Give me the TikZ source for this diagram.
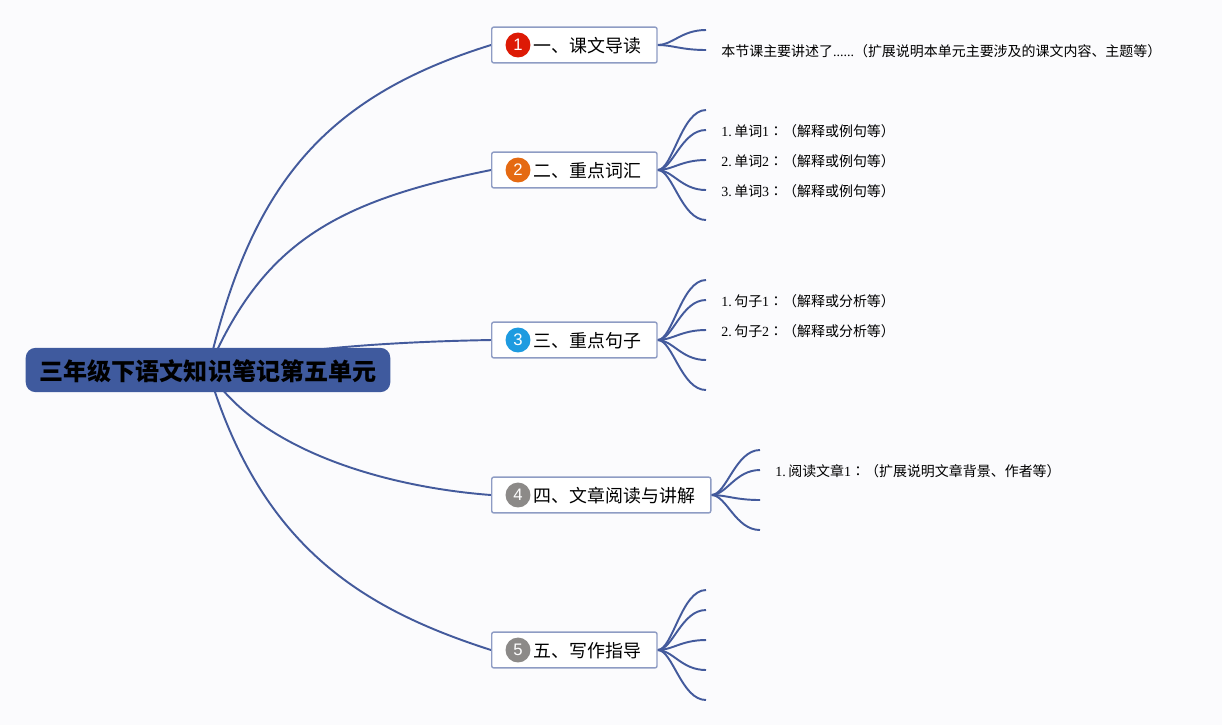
\documentclass[tikz,border=0pt]{standalone}
\usepackage{fontspec}
\setmainfont{Noto Sans CJK SC}
\newfontfamily\latinfont{Liberation Serif}
\newfontfamily\iconfont{Liberation Sans}
\newfontfamily\colonfont{Noto Sans CJK TC}
\newcommand{\numdot}[1]{{\latinfont #1.}\hspace{1.4pt}}
\definecolor{pagebg}{HTML}{FBFBFD}
\definecolor{linkblue}{HTML}{435A9C}
\definecolor{rootblue}{HTML}{3F5A9E}
\definecolor{boxline}{HTML}{8E9CC4}
\definecolor{iconred}{HTML}{DD1A05}
\definecolor{iconorange}{HTML}{E56A12}
\definecolor{iconblue}{HTML}{1E9BE0}
\definecolor{icongrey}{HTML}{8C8A88}
\usetikzlibrary{backgrounds}
\tikzset{
  rootbox/.style={fill=rootblue, rounded corners=5.6pt, minimum width=207.5pt, minimum height=25.2pt, inner sep=0pt, text height=12.1pt, text depth=0pt, font=\fontsize{13.7}{15}\selectfont\bfseries},
  topicbox/.style={draw=boxline, fill=white, rounded corners=1.2pt, line width=0.8pt, anchor=west, inner ysep=0pt, inner xsep=9pt, minimum height=20.4pt, text width=76.1pt, text height=9pt, text depth=0pt, align=right, font=\fontsize{10.2}{12}\selectfont},
  iconball/.style={circle, inner sep=0pt, minimum size=14.2pt, text=white, font=\iconfont\fontsize{9.5}{10}\selectfont},
  leaftext/.style={anchor=west, inner sep=0pt, font=\fontsize{7.95}{10}\selectfont},
  mainlink/.style={draw=linkblue, line width=1.1pt},
  branch/.style={draw=linkblue, line width=1.1pt, out=0, in=180, out distance=8.5pt, in distance=14pt},
}
\begin{document}
\begin{tikzpicture}[x=0.02cm, y=-0.02cm]
    \useasboundingbox (0,0) rectangle (1222,725);
    \node[rootbox] (root) at (208,370) {三年级下语文知识笔记第五单元};

    \node[topicbox] (topicA) at (491,45) {一、课文导读};
    \node[topicbox] (topicB) at (491,170) {二、重点词汇};
    \node[topicbox] (topicC) at (491,340) {三、重点句子};
    \node[topicbox, text width=106.7pt] (topicD) at (491,495) {四、文章阅读与讲解};
    \node[topicbox] (topicE) at (491,650) {五、写作指导};

    \node[iconball, fill=iconred] (iconA) at (518,45) {1};
    \node[iconball, fill=iconorange] (iconB) at (518,170) {2};
    \node[iconball, fill=iconblue] (iconC) at (518,340) {3};
    \node[iconball, fill=icongrey] (iconD) at (518,495) {4};
    \node[iconball, fill=icongrey] (iconE) at (518,650) {5};

    \node[leaftext] (leafA) at (721,51) {本节课主要讲述了{\latinfont ......}（扩展说明本单元主要涉及的课文内容、主题等）};
    \node[leaftext] (leafB1) at (721,131) {\numdot{1}单词{\latinfont 1}{\colonfont ：}（解释或例句等）};
    \node[leaftext] (leafB2) at (721,161) {\numdot{2}单词{\latinfont 2}{\colonfont ：}（解释或例句等）};
    \node[leaftext] (leafB3) at (721,191) {\numdot{3}单词{\latinfont 3}{\colonfont ：}（解释或例句等）};
    \node[leaftext] (leafC1) at (721,301) {\numdot{1}句子{\latinfont 1}{\colonfont ：}（解释或分析等）};
    \node[leaftext] (leafC2) at (721,331) {\numdot{2}句子{\latinfont 2}{\colonfont ：}（解释或分析等）};
    \node[leaftext] (leafD) at (775,471) {\numdot{1}阅读文章{\latinfont 1}{\colonfont ：}（扩展说明文章背景、作者等）};

    \begin{pgfonlayer}{background}
    \fill[pagebg] (0,0) rectangle (1222,725);
    \draw[mainlink] (root.center) .. controls (250,190) and (320,98) .. (topicA.west);
    \draw[mainlink] (root.center) .. controls (262,245) and (332,202) .. (topicB.west);
    \draw[mainlink] (root.center) .. controls (270,350) and (380,342) .. (topicC.west);
    \draw[mainlink] (root.center) .. controls (258,450) and (385,487) .. (topicD.west);
    \draw[mainlink] (root.center) .. controls (260,545) and (360,608) .. (topicE.west);
    \foreach \n/\y in {1/30, 2/50} {
        \coordinate (endA\n) at (706,\y);
        \draw[branch] (topicA.east) to (endA\n);
    }
    \foreach \n/\y in {1/110, 2/130, 3/160, 4/190, 5/220} {
        \coordinate (endB\n) at (706,\y);
        \draw[branch] (topicB.east) to (endB\n);
    }
    \foreach \n/\y in {1/280, 2/300, 3/330, 4/360, 5/390} {
        \coordinate (endC\n) at (706,\y);
        \draw[branch] (topicC.east) to (endC\n);
    }
    \foreach \n/\y in {1/450, 2/470, 3/500, 4/530} {
        \coordinate (endD\n) at (760,\y);
        \draw[branch] (topicD.east) to (endD\n);
    }
    \foreach \n/\y in {1/590, 2/610, 3/640, 4/670, 5/700} {
        \coordinate (endE\n) at (706,\y);
        \draw[branch] (topicE.east) to (endE\n);
    }
    \end{pgfonlayer}
\end{tikzpicture}
\end{document}
